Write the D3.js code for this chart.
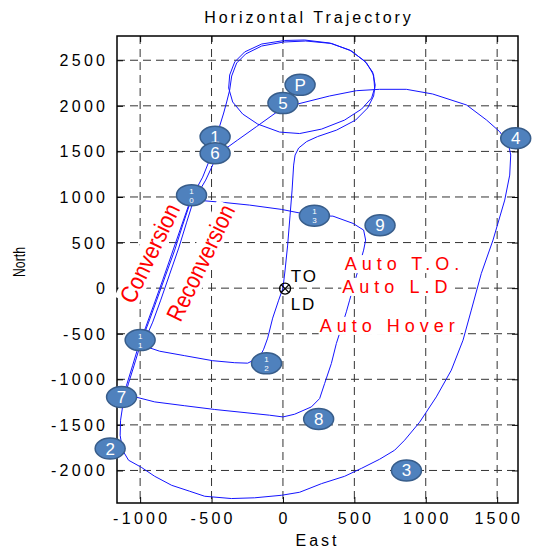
<!DOCTYPE html>
<html lang="en">
<head>
<meta charset="UTF-8">
<script src="https://cdnjs.cloudflare.com/ajax/libs/d3/7.8.5/d3.min.js"></script>
<title>Horizontal Trajectory</title>
<style>
  body { margin: 0; background: #fff; }
  text { font-family: "Liberation Sans", Arial, sans-serif; }
</style>
</head>
<body>
<script>

// tick values
let eastTicks = [-1000, -500, 0, 500, 1000, 1500];
let northTicks = [-2000, -1500, -1000, -500, 0, 500, 1000, 1500, 2000, 2500];

// flight path pieces, [east, north] in feet
let takeoffLoop = [[0,0],[15,198],[33,472],[50,801],[64,1076],[75,1350],[85,1460],[110,1537],[166,1608],
  [243,1663],[376,1734],[509,1844],[593,1976],[635,2108],[646,2228],[628,2371],[572,2492],[467,2612],
  [327,2689],[152,2722],[12,2717],[-149,2678],[-268,2591],[-338,2481],[-373,2338],[-380,2195],
  [-352,2042],[-282,1910],[-177,1800],[-23,1712],[117,1696],[271,1745],[432,1844],[551,1965],
  [621,2086],[642,2195],[635,2338],[586,2470],[481,2601],[341,2684],[159,2711],[5,2700],
  [-149,2656],[-261,2569],[-324,2470],[-359,2327],[-373,2173]];

let conversionLeg = [[-394,2042],[-415,1921],[-443,1778],[-471,1657],[-492,1537],[-520,1383],
  [-562,1218],[-611,1076],[-653,922],[-702,692],[-758,417],[-821,143],[-884,-132],[-940,-373],
  [-989,-571],[-1031,-790],[-1081,-1043],[-1116,-1229],[-1137,-1449],[-1140,-1614],[-1123,-1778]];

let southArc = [[-1081,-1888],[-992,-1965],[-898,-2064],[-779,-2163],[-653,-2228],[-548,-2283],
  [-361,-2308],[-198,-2300],[-9,-2272],[117,-2239],[271,-2144],[432,-2064],[551,-1976],[677,-1877],
  [782,-1778],[852,-1668],[957,-1471],[1074,-1193],[1179,-900],[1261,-571],[1319,-241],[1389,161],
  [1471,527],[1553,966],[1588,1240],[1595,1460],[1581,1570],[1518,1716],[1426,1844],[1286,2009],
  [1048,2130],[864,2181],[677,2181],[514,2166],[327,2108],[103,2020]];

let returnLeg = [[-23,1954],[-186,1771],[-317,1625],[-415,1515],[-464,1460],[-492,1350],[-541,1185],
  [-590,1054],[-632,933],[-674,724],[-730,439],[-793,154],[-856,-132],[-912,-373],[-961,-549],
  [-968,-637],[-863,-692],[-688,-741],[-492,-796],[-338,-818],[-247,-823],[-163,-757],[-135,-670],
  [-107,-549],[-72,-329],[-30,-132],[0,0]];

let autoLoop = [[-1131,-1193],[-1027,-1196],[-898,-1248],[-688,-1290],[-478,-1331],[-245,-1369],
  [-93,-1394],[0,-1413],[82,-1383],[199,-1303],[257,-1211],[292,-1046],[339,-827],[374,-607],
  [404,-461],[444,-260],[467,-132],[516,143],[565,417],[579,527],[565,637],[491,710],[350,790],
  [215,794],[-11,864],[-233,911],[-408,939],[-548,958],[-618,999],[-660,911],[-716,659],[-779,373],
  [-842,88],[-905,-187],[-961,-428],[-1010,-626],[-1052,-845],[-1095,-1065],[-1131,-1193]];

// waypoint markers
let markerNames = ["P", "5", "1", "6", "4", "10", "13", "9", "11", "12", "7", "8", "2", "3"];
let markerEast  = [120, 0, -475, -475, 1630, -640, 220, 680, -1000, -115, -1130, 250, -1210, 865];
let markerNorth = [2230, 2030, 1660, 1480, 1645, 1020, 795, 690, -570, -825, -1195, -1435, -1760, -2000];

// set dimensions of graph
let margin = {top: 36, right: 15, bottom: 46, left: 117};
let width = 533 - margin.left - margin.right;
let height = 549 - margin.top - margin.bottom;

let x = d3.scaleLinear().domain([-1162, 1646]).range([0, width]);
let y = d3.scaleLinear().domain([-2357, 2766]).range([height, 0]);

let svg = d3.select("body").append("svg")
    .attr("width", 533)
    .attr("height", 549)
    .append("g")
    .attr("transform", "translate(" + margin.left + "," + margin.top + ")");

// dashed grid
svg.append("g").selectAll("line").data(eastTicks).enter().append("line")
    .attr("x1", d => x(d)).attr("x2", d => x(d))
    .attr("y1", 0).attr("y2", height)
    .attr("stroke", "#333").attr("stroke-dasharray", "8,5");
svg.append("g").selectAll("line").data(northTicks).enter().append("line")
    .attr("y1", d => y(d)).attr("y2", d => y(d))
    .attr("x1", 0).attr("x2", width)
    .attr("stroke", "#333").attr("stroke-dasharray", "8,5");

// inward ticks on all four sides
svg.append("g").attr("transform", "translate(0," + height + ")")
    .call(d3.axisBottom(x).tickValues(eastTicks).tickSize(-6).tickFormat(""));
svg.append("g")
    .call(d3.axisTop(x).tickValues(eastTicks).tickSize(-6).tickFormat(""));
svg.append("g")
    .call(d3.axisLeft(y).tickValues(northTicks).tickSize(-6).tickFormat(""));
svg.append("g").attr("transform", "translate(" + width + ",0)")
    .call(d3.axisRight(y).tickValues(northTicks).tickSize(-6).tickFormat(""));
svg.selectAll(".domain").remove();
svg.selectAll(".tick line").attr("stroke", "#000");

// tick labels, letter spaced like the original
let sp = 3.3;
svg.append("g").selectAll("text").data(eastTicks).enter().append("text")
    .attr("x", d => x(d) + sp / 2).attr("y", height + 21)
    .attr("text-anchor", "middle").attr("font-size", 16)
    .style("letter-spacing", sp + "px")
    .text(d => d);
svg.append("g").selectAll("text").data(northTicks).enter().append("text")
    .attr("x", -12 + sp).attr("y", d => y(d) + 6)
    .attr("text-anchor", "end").attr("font-size", 16)
    .style("letter-spacing", sp + "px")
    .text(d => d);

// flight paths
let line = d3.line().x(d => x(d[0])).y(d => y(d[1]));
let mainFlight = takeoffLoop.concat(conversionLeg, southArc, returnLeg);
[mainFlight, autoLoop].forEach(function(p) {
    svg.append("path").datum(p)
        .attr("d", line)
        .attr("fill", "none")
        .attr("stroke", "#1414ff")
        .attr("stroke-width", 1)
        .attr("stroke-linejoin", "round");
});

// frame
svg.append("rect").attr("width", width).attr("height", height)
    .attr("fill", "none").attr("stroke", "#000").attr("stroke-width", 1.5);

// labels with white boxes behind them
function boxedLabel(cx, cy, angle, str, size, opts) {
    let g = svg.append("g")
        .attr("transform", "translate(" + cx + "," + cy + ") rotate(" + angle + ")");
    let t = g.append("text").attr("font-size", size).attr("fill", opts.color)
        .attr("text-anchor", opts.anchor || "start")
        .attr("dy", opts.dy || 0)
        .style("letter-spacing", (opts.spacing || 0) + "px")
        .text(str);
    if (opts.len) t.attr("textLength", opts.len).attr("lengthAdjust", "spacingAndGlyphs");
    if (opts.box) {
        let b = t.node().getBBox();
        g.insert("rect", "text")
            .attr("x", b.x - 1).attr("y", b.y + 1)
            .attr("width", b.width + 2).attr("height", b.height - 2)
            .attr("fill", "#fff");
    }
}

boxedLabel(x(-933), y(384), -64, "Conversion", 24, {color: "red", anchor: "middle", dy: "0.35em", len: 107, box: true});
boxedLabel(x(-576), y(280), -64, "Reconversion", 24, {color: "red", anchor: "middle", dy: "0.35em", len: 126, box: true});
boxedLabel(x(432), y(198), 0, "Auto T.O.", 18, {color: "red", spacing: 5, box: true});
boxedLabel(x(416), y(-52), 0, "Auto L.D", 18, {color: "red", spacing: 5, box: true});
boxedLabel(x(257), y(-480), 0, "Auto Hover", 18, {color: "red", spacing: 5, box: true});
boxedLabel(x(54), y(71), 0, "TO", 17, {color: "#000", spacing: 2});
boxedLabel(x(54), y(-236), 0, "LD", 17, {color: "#000", spacing: 2});

// take-off / landing point
let tx = x(15), ty = y(-5);
svg.append("circle").attr("cx", tx).attr("cy", ty).attr("r", 5.5)
    .attr("fill", "none").attr("stroke", "#000").attr("stroke-width", 1.3);
svg.append("path")
    .attr("d", "M" + (tx - 4) + "," + (ty - 4) + "L" + (tx + 4) + "," + (ty + 4) +
               "M" + (tx + 4) + "," + (ty - 4) + "L" + (tx - 4) + "," + (ty + 4))
    .attr("stroke", "#000").attr("stroke-width", 1.3);

// waypoint markers
let markers = markerNames.map((n, i) => ({name: n, e: markerEast[i], n: markerNorth[i]}));
let mk = svg.append("g").selectAll("g").data(markers).enter().append("g")
    .attr("transform", d => "translate(" + x(d.e) + "," + y(d.n) + ")");
mk.append("ellipse").attr("rx", 15).attr("ry", 10.5)
    .attr("fill", "#4F81BD").attr("stroke", "#385D8A").attr("stroke-width", 1.5);
mk.each(function(d) {
    let g = d3.select(this);
    if (d.name.length === 1) {
        g.append("text").attr("text-anchor", "middle").attr("y", 6)
            .attr("font-size", 17).attr("fill", "#fff").text(d.name);
    } else {
        g.append("text").attr("text-anchor", "middle").attr("y", -1.5)
            .attr("font-size", 8).attr("fill", "#fff").text(d.name[0]);
        g.append("text").attr("text-anchor", "middle").attr("y", 7.5)
            .attr("font-size", 8).attr("fill", "#fff").text(d.name[1]);
    }
});

// title and axis names
let root = d3.select("svg");
root.append("text").attr("x", 307.5 + 1.5).attr("y", 22.5)
    .attr("text-anchor", "middle").attr("font-size", 16)
    .style("letter-spacing", "3px").text("Horizontal Trajectory");
root.append("text").attr("x", 316 + 1.5).attr("y", 546)
    .attr("text-anchor", "middle").attr("font-size", 16)
    .style("letter-spacing", "3px").text("East");
root.append("text").attr("transform", "translate(25,262) rotate(-90)")
    .attr("text-anchor", "middle").attr("font-size", 16)
    .attr("textLength", 30).attr("lengthAdjust", "spacingAndGlyphs")
    .text("North");

</script>
</body>
</html>
